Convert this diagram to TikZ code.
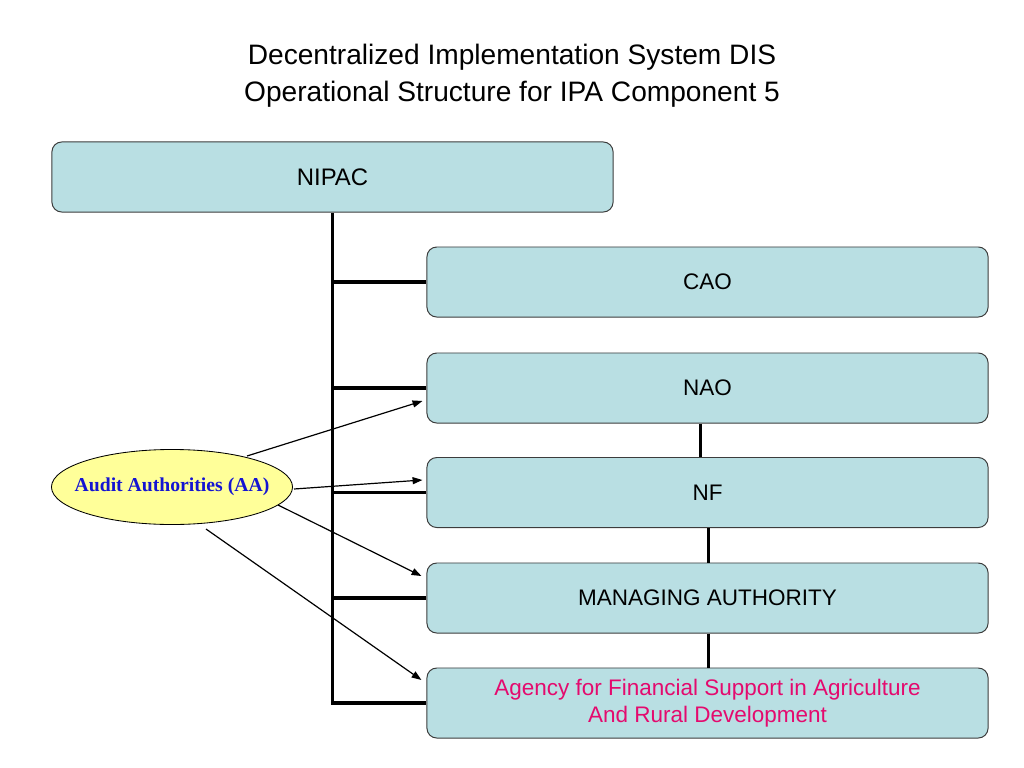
\documentclass[tikz,border=0pt]{standalone}
\usepackage{fontspec}
\setmainfont{Liberation Sans}
\newfontfamily\serifb{Liberation Serif}
\usetikzlibrary{shapes.geometric,arrows.meta,calc}
\definecolor{boxfill}{RGB}{185,223,227}
\definecolor{boxline}{RGB}{60,60,60}
\definecolor{aafill}{RGB}{255,255,153}
\definecolor{aablue}{RGB}{20,20,210}
\definecolor{agpink}{RGB}{228,10,110}
\begin{document}
\begin{tikzpicture}[x=0.025cm,y=-0.025cm,
  orgbox/.style={draw=boxline,line width=0.7pt,fill=boxfill,rounded corners=7pt,
    minimum width=14.025cm,minimum height=1.75cm,inner sep=0pt,align=center,
    font=\fontsize{16}{19.5}\selectfont},
  trunk/.style={line width=2.8pt,black},
  link/.style={line width=2.1pt,black},
  aarrow/.style={line width=0.85pt,-{Triangle[length=7pt,width=5pt]}}]
\useasboundingbox (0,0) rectangle (1024,768);
\node[font=\fontsize{20}{26}\selectfont,align=center] (title) at (512,76)
  {Decentralized Implementation System DIS\\Operational Structure for IPA Component 5};
\node[orgbox,font=\fontsize{17}{19}\selectfont] (nipac) at (332.5,177) {NIPAC};
\node[orgbox] (cao) at (707.5,282) {CAO};
\node[orgbox] (nao) at (707.5,388) {NAO};
\node[orgbox] (nf) at (707.5,492.5) {NF};
\node[orgbox] (ma) at (707.5,598) {MANAGING AUTHORITY};
\node[orgbox,text=agpink] (ag) at (707.5,703) {Agency for Financial Support in Agriculture\\And Rural Development};
\node[ellipse,draw=black,line width=0.6pt,fill=aafill,minimum width=6.025cm,minimum height=1.875cm,
  inner sep=0pt] (aa) at (172,487) {};
\node[text=aablue,font=\serifb\bfseries\fontsize{14}{16}\selectfont,inner sep=0pt] (aatext) at (aa.center)
  {Audit Authorities (AA)};
% trunk
\draw[trunk] (nipac.south) |- (ag.west);
\draw[trunk] (nipac.south |- cao.west) -- (cao.west);
\draw[trunk] (nipac.south |- nao.west) -- (nao.west);
\draw[trunk] (nipac.south |- nf.west) -- (nf.west);
\draw[trunk] (nipac.south |- ma.west) -- (ma.west);
% links between boxes
\draw[link] ($(nao.south)+(-7,0)$) -- ($(nf.north)+(-7,0)$);
\draw[link] ($(nf.south)+(1,0)$) -- ($(ma.north)+(1,0)$);
\draw[link] ($(ma.south)+(1,0)$) -- ($(ag.north)+(1,0)$);
% audit arrows
\coordinate (s1) at ($(aa.center)+(75,-31)$);
\coordinate (s2) at ($(aa.center)+(122,2)$);
\coordinate (s3) at ($(aa.center)+(106,18)$);
\coordinate (s4) at ($(aa.center)+(34,42)$);
\draw[aarrow] (s1) -- ($(nao.west)+(-4,13)$);
\draw[aarrow] (s2) -- ($(nf.west)+(-4,-12.5)$);
\draw[aarrow] (s3) -- ($(ma.west)+(-5,-22)$);
\draw[aarrow] (s4) -- ($(ag.west)+(-5,-23)$);
\end{tikzpicture}
\end{document}
